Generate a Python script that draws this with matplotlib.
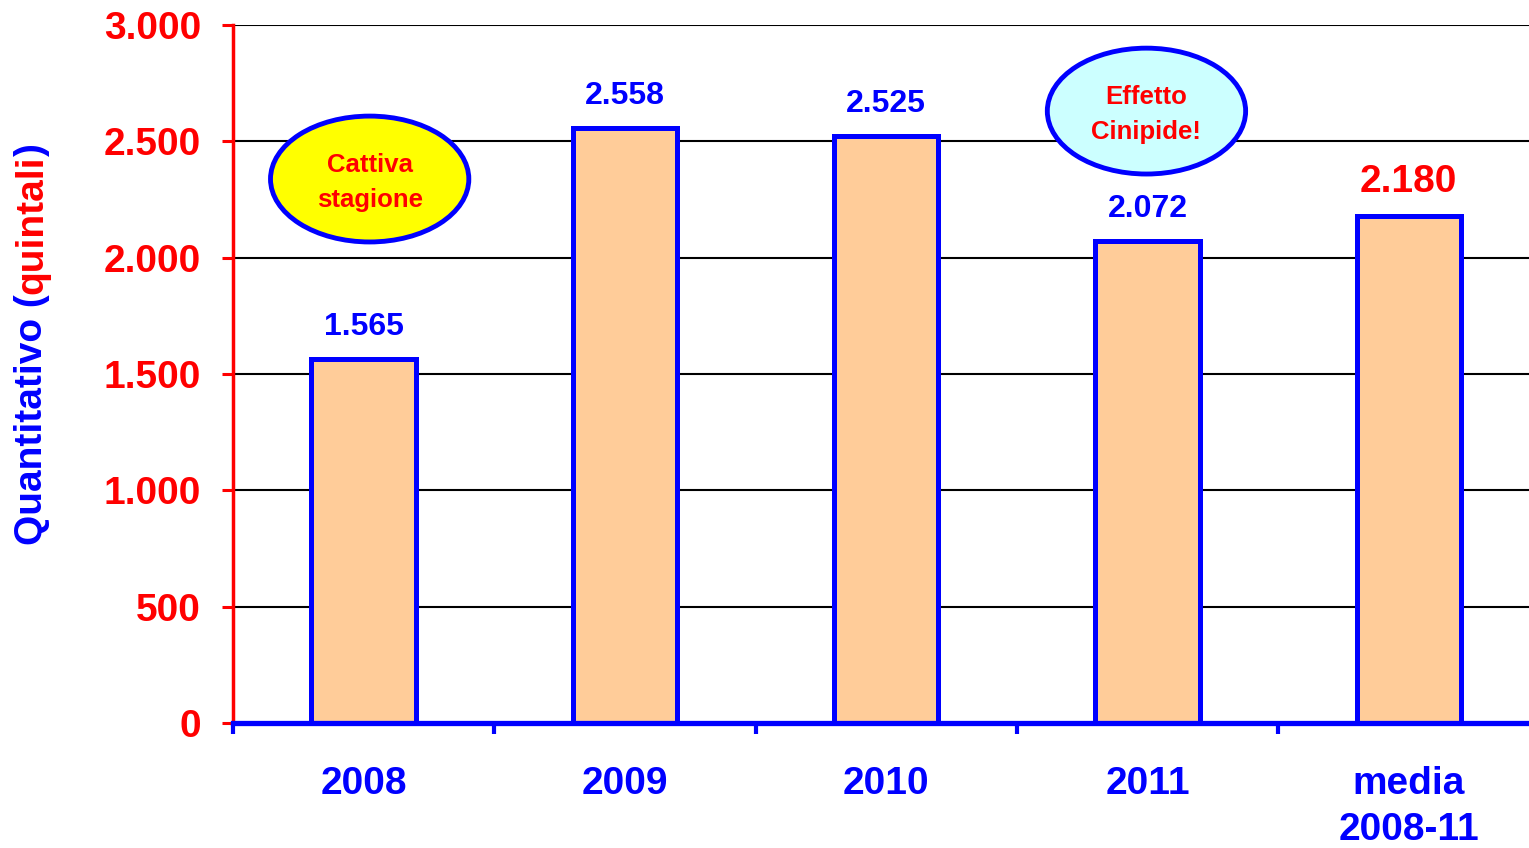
import numpy as np
import matplotlib
matplotlib.use("Agg")
import matplotlib.pyplot as plt
from matplotlib.patches import Ellipse

plt.rcParams['font.family'] = ['Liberation Sans', 'DejaVu Sans']
plt.rcParams['font.weight'] = 'bold'

categorie = ['2008', '2009', '2010', '2011', 'media\n2008-11']
quantita = [1565, 2558, 2525, 2072, 2180]
etichette = ['1.565', '2.558', '2.525', '2.072', '2.180']
colori_etichette = ['blue', 'blue', 'blue', 'blue', 'red']
y_ticks = [0, 500, 1000, 1500, 2000, 2500, 3000]
y_labels = ['0', '500', '1.000', '1.500', '2.000', '2.500', '3.000']

# note (ellissi): testo, centro x, centro y, colore
note = [('Cattiva\nstagione', 0.023, 2338, '#FFFF00'),
        ('Effetto\nCinipide!', 2.996, 2630, '#CCFFFF')]

fig = plt.figure(figsize=(15.29, 8.48), dpi=100)
ax = fig.add_axes([233/1529, 125/848, 1 - 233/1529, 698/848])

x = np.arange(len(categorie))
ax.bar(x, quantita, width=0.4, color='#FFCC99', edgecolor='blue', linewidth=3.6, zorder=3)

for xi, v, t, c in zip(x, quantita, etichette, colori_etichette):
    fs, off = (28, 70) if c == 'red' else (23, 72)
    ax.text(xi, v + off, t, ha='center', va='bottom', color=c, fontsize=fs, fontweight='bold', zorder=5)

for testo, cx, cy, fc in note:
    ax.add_patch(Ellipse((cx, cy), 0.759, 541, facecolor=fc, edgecolor='blue', linewidth=3.5, zorder=6))
    ax.text(cx, cy - 15, testo, ha='center', va='center', color='red', fontsize=18.5,
            fontweight='bold', linespacing=1.55, zorder=7)

ax.set_yticks(y_ticks)
ax.set_yticklabels(y_labels)
ax.tick_params(axis='y', colors='red', length=8, width=2.2, pad=15, labelsize=28, direction='out')
for lab in ax.get_yticklabels():
    lab.set_fontweight('bold')

ax.set_xticks(np.arange(len(categorie) + 1) - 0.5)
ax.set_xticklabels([])
ax.tick_params(axis='x', which='major', colors='blue', length=8, width=3, direction='out')
ax.set_xticks(x, minor=True)
ax.set_xticklabels(categorie, minor=True)
ax.tick_params(axis='x', which='minor', length=0, pad=31, labelsize=28, labelcolor='blue')
for lab in ax.get_xticklabels(minor=True):
    lab.set_fontweight('bold')
    lab.set_linespacing(1.35)

ax.set_xlim(-0.5, 4.46)
ax.set_ylim(0, 3000)

ax.yaxis.grid(True, color='black', linewidth=1.5, zorder=0)
ax.set_axisbelow(True)

ax.spines['top'].set_visible(False)
ax.spines['right'].set_visible(False)
ax.spines['left'].set_color('red')
ax.spines['left'].set_linewidth(2.5)
ax.spines['bottom'].set_color('blue')
ax.spines['bottom'].set_linewidth(3.8)
ax.spines['bottom'].set_zorder(4)

# etichetta asse y a due colori
renderer = fig.canvas.get_renderer()
pezzi = [('Quantitativo (', 'blue'), ('quintali', 'red'), (')', 'blue')]
ypos = 1 - 545/848
for testo, col in pezzi:
    t = fig.text(32/1529, ypos, testo, rotation=90, ha='center', va='bottom',
                 color=col, fontsize=28, fontweight='bold')
    bb = t.get_window_extent(renderer)
    ypos += bb.height / fig.bbox.height

fig.savefig('out.png', dpi=100)
